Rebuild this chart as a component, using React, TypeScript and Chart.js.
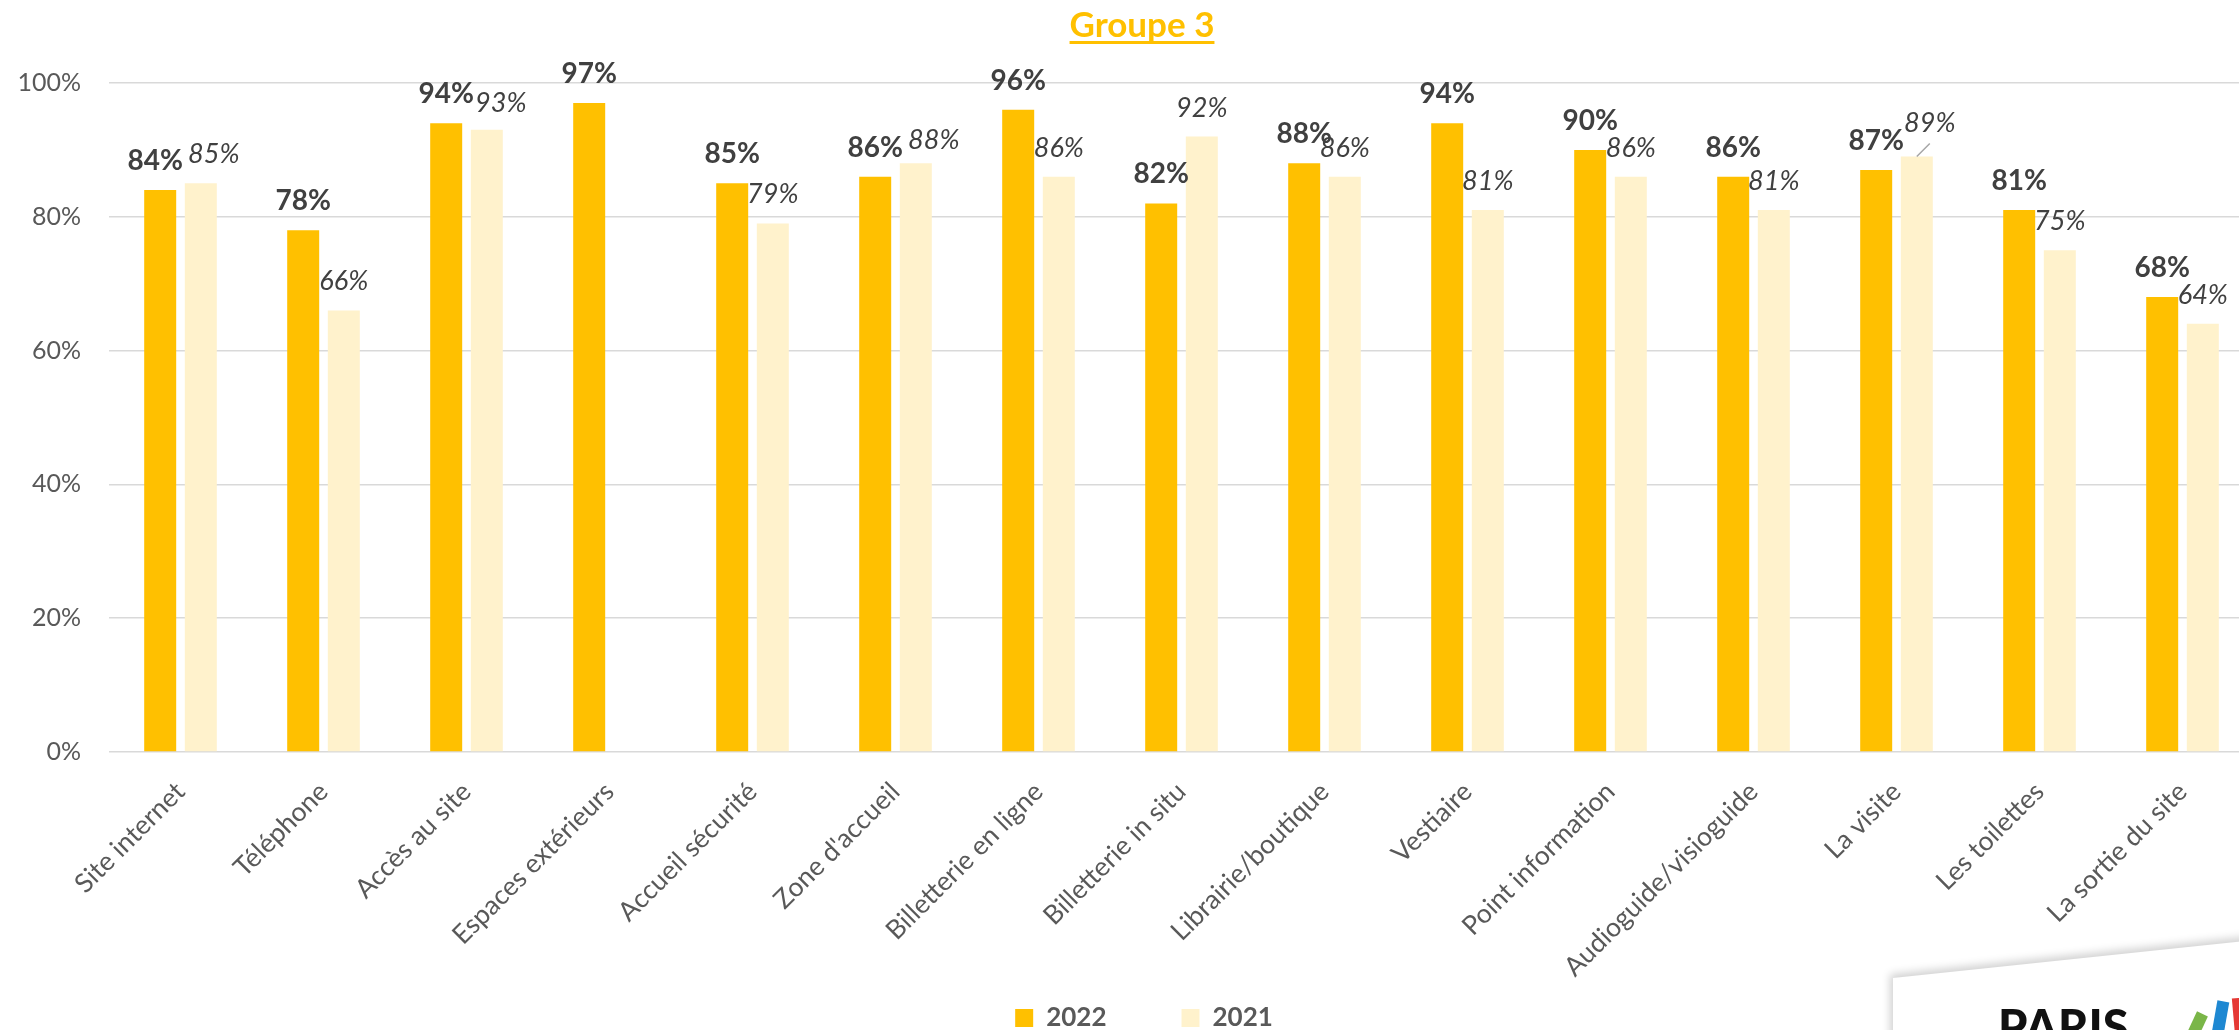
import React, { useEffect, useRef } from "react";
import { Chart, registerables } from "chart.js";

Chart.register(...registerables);

const categories = [
  "Site internet",
  "Téléphone",
  "Accès au site",
  "Espaces extérieurs",
  "Accueil sécurité",
  "Zone d'accueil",
  "Billetterie en ligne",
  "Billetterie in situ",
  "Librairie/boutique",
  "Vestiaire",
  "Point information",
  "Audioguide/visioguide",
  "La visite",
  "Les toilettes",
  "La sortie du site",
];

const values2022 = [84, 78, 94, 97, 85, 86, 96, 82, 88, 94, 90, 86, 87, 81, 68];
const values2021 = [85, 66, 93, null, 79, 88, 86, 92, 86, 81, 86, 81, 89, 75, 64];

const seriesNames = ["2022", "2021"];
const yTickValues = [0, 20, 40, 60, 80, 100];
const titleText = "Groupe 3";

// styling only: label nudges keyed by "dataset-index"
const labelNudges: Record<string, { dx: number; dy: number; leader?: boolean }> = {
  "0-0": { dx: -5, dy: 0 },
  "1-0": { dx: 13, dy: 0 },
  "1-2": { dx: 14, dy: 2 },
  "1-5": { dx: 18, dy: 6 },
  "1-12": { dx: 13, dy: -5, leader: true },
};

const COLOR_2022 = "#FFC000";
const COLOR_2021 = "#FFF2CC";
const LABEL_COLOR = "#404040";
const TICK_COLOR = "#595959";
const GRID_COLOR = "#D9D9D9";
const FONT = "Lato";

const valueLabelPlugin = {
  id: "valueLabels",
  afterDatasetsDraw(chart: any) {
    const ctx = chart.ctx;
    chart.data.datasets.forEach((ds: any, di: number) => {
      const meta = chart.getDatasetMeta(di);
      meta.data.forEach((bar: any, i: number) => {
        const v = ds.data[i];
        if (v === null || v === undefined) return;
        const n = labelNudges[`${di}-${i}`] || { dx: 0, dy: 0 };
        const x = bar.x + n.dx;
        const y = bar.y - 20 + n.dy;
        ctx.save();
        ctx.font = di === 0 ? `bold 28px ${FONT}` : `italic 27px ${FONT}`;
        ctx.fillStyle = LABEL_COLOR;
        ctx.textAlign = "center";
        ctx.textBaseline = "alphabetic";
        ctx.fillText(`${v}%`, x, y);
        if (n.leader) {
          ctx.strokeStyle = "#A6A6A6";
          ctx.lineWidth = 1.5;
          ctx.beginPath();
          ctx.moveTo(bar.x, bar.y);
          ctx.lineTo(x, y + 12);
          ctx.stroke();
        }
        ctx.restore();
      });
    });
  },
};

const titlePlugin = {
  id: "underlinedTitle",
  afterDraw(chart: any) {
    const ctx = chart.ctx;
    ctx.save();
    ctx.font = `bold 35px ${FONT}`;
    ctx.fillStyle = COLOR_2022;
    ctx.textAlign = "center";
    ctx.textBaseline = "alphabetic";
    const cx = chart.width / 2;
    ctx.fillText(titleText, cx, 37);
    const w = ctx.measureText(titleText).width;
    ctx.fillRect(cx - w / 2, 41, w, 3);
    ctx.restore();
  },
};

export default function App() {
  const canvasRef = useRef<HTMLCanvasElement | null>(null);

  useEffect(() => {
    if (!canvasRef.current) return;
    const chart = new Chart(canvasRef.current, {
      type: "bar",
      data: {
        labels: categories,
        datasets: [
          {
            label: seriesNames[0],
            data: values2022,
            backgroundColor: COLOR_2022,
            borderWidth: 0,
            categoryPercentage: 0.568,
            barPercentage: 0.788,
          },
          {
            label: seriesNames[1],
            data: values2021 as any,
            backgroundColor: COLOR_2021,
            borderWidth: 0,
            categoryPercentage: 0.568,
            barPercentage: 0.788,
          },
        ],
      },
      options: {
        responsive: false,
        animation: false,
        devicePixelRatio: 1,
        layout: { padding: { top: 83, left: 34, right: 30, bottom: 0 } },
        plugins: {
          tooltip: { enabled: false },
          title: { display: false },
          legend: {
            position: "bottom",
            labels: {
              font: { family: FONT, size: 26, weight: "bold" },
              color: TICK_COLOR,
              boxWidth: 18,
              boxHeight: 18,
              padding: 75,
            },
          },
        },
        scales: {
          x: {
            grid: { display: false, drawTicks: false },
            border: { display: false },
            ticks: {
              autoSkip: false,
              minRotation: 45,
              maxRotation: 45,
              padding: 24,
              color: TICK_COLOR,
              font: { family: FONT, size: 26.5 },
            },
            afterFit(scale: any) {
              scale.height = 178;
              scale._computeLabelArea = () => undefined;
            },
          },
          y: {
            min: 0,
            max: 100,
            grid: { color: GRID_COLOR, lineWidth: 1.5, drawTicks: false },
            border: { display: false },
            ticks: {
              padding: 28,
              color: TICK_COLOR,
              font: { family: FONT, size: 25 },
              callback: (v: any) => `${v}%`,
            },
            afterBuildTicks(scale: any) {
              scale.ticks = yTickValues.map((v) => ({ value: v }));
            },
            afterFit(scale: any) {
              scale.width = 75;
              scale._computeLabelArea = () => undefined;
            },
          },
        },
      },
      plugins: [valueLabelPlugin, titlePlugin],
    });
    return () => chart.destroy();
  }, []);

  return (
    <div
      style={{
        position: "fixed",
        left: 0,
        top: 0,
        width: 2239,
        height: 1030,
        overflow: "hidden",
        background: "#fff",
      }}
    >
      <canvas
        ref={canvasRef}
        width={2284}
        height={1041}
        style={{ width: 2284, height: 1041, display: "block" }}
      />
      {/* logo card in the corner */}
      <div
        style={{
          position: "absolute",
          left: 1893,
          top: 978,
          width: 420,
          height: 120,
          background: "#fff",
          boxShadow: "-3px -4px 8px rgba(0,0,0,0.18)",
          transform: "skewY(-6deg)",
          transformOrigin: "0 0",
        }}
      />
      <div
        style={{
          position: "absolute",
          left: 1998,
          top: 1003,
          fontFamily: FONT,
          fontWeight: 900,
          fontSize: 47,
          lineHeight: "47px",
          color: "#111",
          letterSpacing: 0,
        }}
      >
        PARIS
      </div>
      <div style={{ position: "absolute", left: 2188, top: 1012, width: 12, height: 40, background: "#7AB648", transform: "rotate(25deg)" }} />
      <div style={{ position: "absolute", left: 2213, top: 1001, width: 12, height: 50, background: "#1E88D2", transform: "rotate(10deg)" }} />
      <div style={{ position: "absolute", left: 2234, top: 998, width: 10, height: 50, background: "#E53935", transform: "rotate(-5deg)" }} />
    </div>
  );
}
